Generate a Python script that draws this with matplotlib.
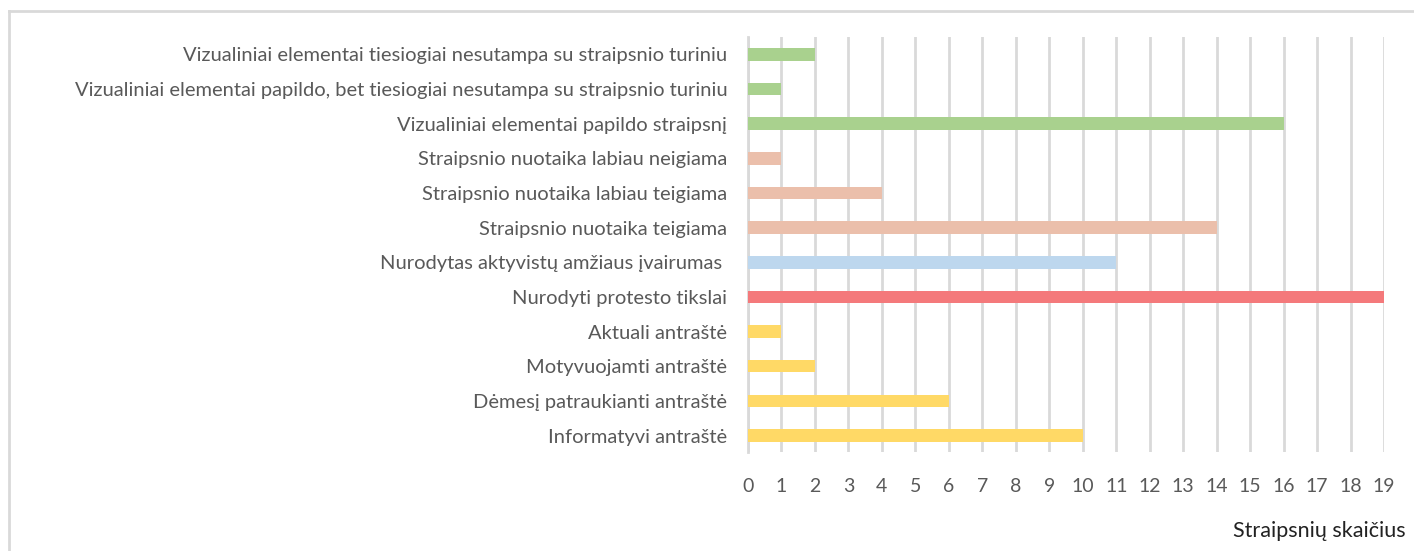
import matplotlib
matplotlib.use("Agg")
import matplotlib.pyplot as plt
from matplotlib.lines import Line2D

plt.rcParams['font.family'] = ['Lato', 'DejaVu Sans']

# bottom to top
categories = [
    "Informatyvi antraštė",
    "Dėmesį patraukianti antraštė",
    "Motyvuojamti antraštė",
    "Aktuali antraštė",
    "Nurodyti protesto tikslai",
    "Nurodytas aktyvistų amžiaus įvairumas ",
    "Straipsnio nuotaika teigiama",
    "Straipsnio nuotaika labiau teigiama",
    "Straipsnio nuotaika labiau neigiama",
    "Vizualiniai elementai papildo straipsnį",
    "Vizualiniai elementai papildo, bet tiesiogiai nesutampa su straipsnio turiniu",
    "Vizualiniai elementai tiesiogiai nesutampa su straipsnio turiniu",
]
counts = [10, 6, 2, 1, 19, 11, 14, 4, 1, 16, 1, 2]
yellow, red, blue, salmon, green = "#ffd966", "#f4797b", "#bdd7ee", "#ebbfab", "#a9d18e"
colors = [yellow] * 4 + [red, blue] + [salmon] * 3 + [green] * 3
xticks = list(range(0, 20))
xlabel = "Straipsnių skaičius"

txt = "#595959"
grid = "#d9d9d9"

fig = plt.figure(figsize=(14.14, 5.51), dpi=100)
ax = fig.add_axes([0.529, 0.18, 0.4498, 0.7528])

ypos = list(range(len(categories)))
ax.barh(ypos, counts, height=0.36, color=colors, zorder=3)

ax.set_xlim(0, 19)
ax.set_ylim(-0.47, 11.5)
ax.set_xticks(xticks)
ax.set_yticks(ypos, labels=categories)
ax.grid(axis='x', color=grid, linewidth=2, zorder=0)
ax.tick_params(axis='y', length=0, pad=15, labelsize=14.5, labelcolor=txt)
ax.tick_params(axis='x', length=0, pad=19, labelsize=14, labelcolor=txt)
for s in ['top', 'right', 'bottom']:
    ax.spines[s].set_visible(False)
ax.spines['left'].set_color(grid)
ax.spines['left'].set_linewidth(2)

fig.text(0.994, 0.037, xlabel, ha='right', va='center', fontsize=15.5, color='#222222')

# chart frame
fig.add_artist(Line2D([0.0064, 1.0], [0.98, 0.98], color=grid, linewidth=2,
                      transform=fig.transFigure))
fig.add_artist(Line2D([0.0064, 0.0064], [0.0, 0.98], color=grid, linewidth=2,
                      transform=fig.transFigure))

fig.savefig("out.png", dpi=100)
